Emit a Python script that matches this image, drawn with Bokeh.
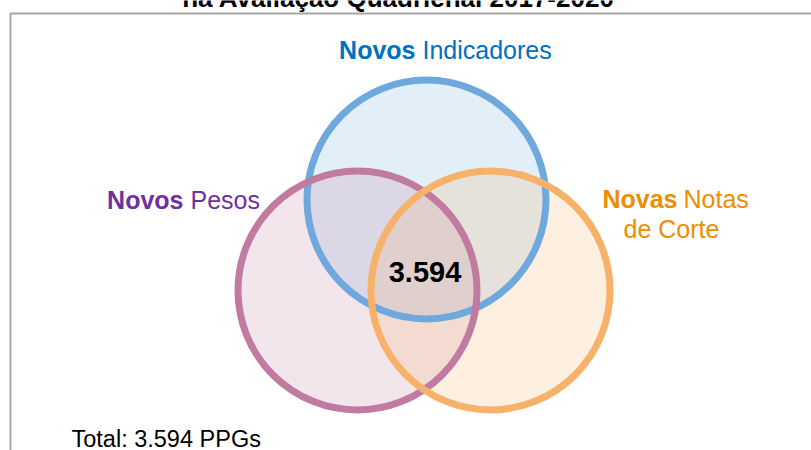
from bokeh.plotting import figure
from bokeh.models import Range1d, ColumnDataSource
from bokeh.core.properties import value
from bokeh.embed import file_html
from bokeh.resources import INLINE

# ---- data ----
title_text = "na Avaliação Quadrienal 2017-2020"
set_bold = ["Novos", "Novos", "Novas"]
set_regular = ["Indicadores", "Pesos", "Notas"]
set_second_line = ["", "", "de Corte"]
set_stroke = ["#6fa8dc", "#c27ba0", "#f6b26b"]
set_text_color = ["#0070c0", "#7030a0", "#f08c00"]
intersection_all = 3594
total_ppgs = 3594


def fmt(n):
    return f"{n:,}".replace(",", ".")


# ---- layout ----
W, H = 811, 450
FONT = "Liberation Sans"
cx = [426, 357, 490]
cy = [199, 290, 290]
R = 119.5

p = figure(width=W, height=H, x_range=Range1d(0, W), y_range=Range1d(H, 0),
           output_backend="svg", toolbar_location=None,
           x_axis_type=None, y_axis_type=None, min_border=0,
           outline_line_color=None, background_fill_color="white",
           border_fill_color="white")
p.grid.visible = False

# frame lines
p.line(x=[10, 10, W], y=[H, 13, 13], line_color="#a6a6a6", line_width=2)

src = ColumnDataSource(dict(x=cx, y=cy, stroke=set_stroke))
p.circle(x="x", y="y", radius=R, source=src, fill_color="stroke",
         fill_alpha=0.2, line_color=None)
p.circle(x="x", y="y", radius=R, source=src, fill_color=None,
         line_color="stroke", line_width=7)

# set labels (bold word + regular word)
bold_x = [415, 183, 677]
reg_x = [422, 190, 683]
lab_y = [49, 199, 198]
p.text(x=bold_x, y=lab_y, text=set_bold, text_color=set_text_color,
       text_font=value(FONT), text_font_style="bold", text_font_size="25px",
       text_align="right", text_baseline="alphabetic")
p.text(x=reg_x, y=lab_y, text=set_regular, text_color=set_text_color,
       text_font=value(FONT), text_font_size="25px",
       text_align="left", text_baseline="alphabetic")
p.text(x=[671], y=[228], text=[set_second_line[2]], text_color=set_text_color[2],
       text_font=value(FONT), text_font_size="25px",
       text_align="center", text_baseline="alphabetic")

# intersection value
p.text(x=[424.5], y=[271], text=[fmt(intersection_all)], text_color="black",
       text_font=value(FONT), text_font_style="bold", text_font_size="29px",
       text_align="center", text_baseline="alphabetic")

# total
p.text(x=[71], y=[438], text=[f"Total: {fmt(total_ppgs)} PPGs"], text_color="black",
       text_font=value(FONT), text_font_size="23.5px",
       text_align="left", text_baseline="alphabetic")

# title (mostly cut off above the frame, as in the reference)
p.text(x=[398], y=[-3], text=[title_text], text_color="black",
       text_font=value(FONT), text_font_style="bold", text_font_size="26px",
       text_align="center", text_baseline="alphabetic")

open("out.html", "w").write(file_html(p, INLINE))
